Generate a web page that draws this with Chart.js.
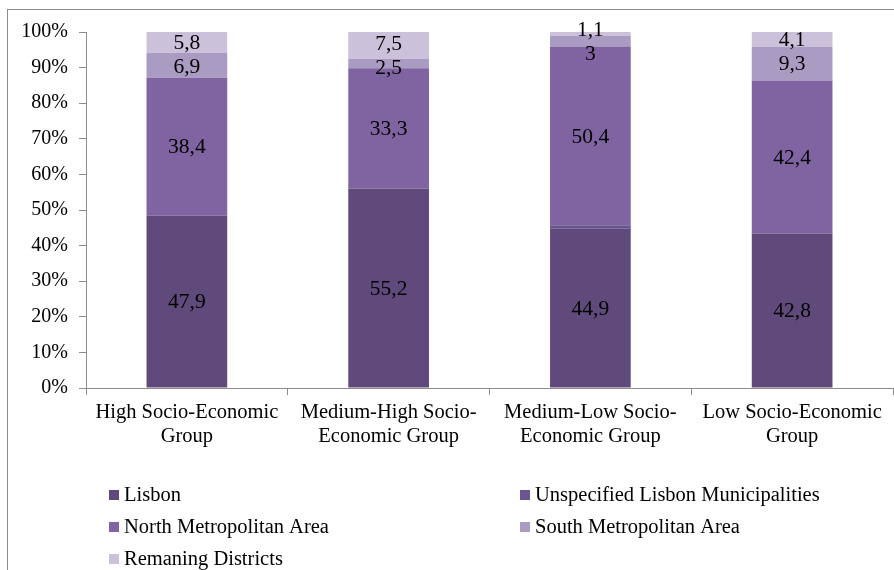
<!DOCTYPE html>
<html>
<head>
<meta charset="utf-8">
<script src="https://cdn.jsdelivr.net/npm/chart.js@4.4.1/dist/chart.umd.min.js"></script>
<style>
  html, body { margin: 0; padding: 0; background: #fff; overflow: hidden; }
  #wrap { position: relative; width: 894px; height: 570px; overflow: hidden; }
  #frame { position: absolute; left: 7px; top: 9px; width: 887px; height: 600px; border: 1px solid #8c8c8c; border-right: none; box-sizing: border-box; pointer-events: none; }
  canvas { position: absolute; left: 0; top: 0; }
</style>
</head>
<body>
<div id="wrap">
  <canvas id="chart" width="894" height="570"></canvas>
  <div id="frame"></div>
</div>
<script>
// Datos (porcentaje por grupo socioeconomico)
var categories = [
  ['High Socio-Economic', 'Group'],
  ['Medium-High Socio-', 'Economic Group'],
  ['Medium-Low Socio-', 'Economic Group'],
  ['Low Socio-Economic', 'Group']
];
var seriesNames = ['Lisbon', 'Unspecified Lisbon Municipalities', 'North Metropolitan Area', 'South Metropolitan Area', 'Remaning Districts'];
var lisbon = [47.9, 55.2, 44.9, 42.8];
var unspecified = [0, 0, 1.0, 0];
var north = [38.4, 33.3, 50.4, 42.4];
var south = [6.9, 2.5, 3, 9.3];
var remaining = [5.8, 7.5, 1.1, 4.1];
var yTicks = [0, 10, 20, 30, 40, 50, 60, 70, 80, 90, 100];

var colors = ['#604a7b', '#6a5590', '#8064a2', '#a99bc2', '#ccc1da'];
var showLabel = [true, false, true, true, true];
var raw = [lisbon, unspecified, north, south, remaining];

// apilado al 100%: cada barra se normaliza a su total
var totals = categories.map(function (c, i) {
  return raw.reduce(function (s, arr) { return s + arr[i]; }, 0);
});

var datasets = raw.map(function (arr, k) {
  return {
    label: seriesNames[k],
    data: arr.map(function (v, i) { return v / totals[i] * 100; }),
    rawValues: arr,
    showLabel: showLabel[k],
    backgroundColor: colors[k],
    borderWidth: 0,
    barPercentage: 0.4,
    categoryPercentage: 1
  };
});

var serif = 'Liberation Serif, Times New Roman, serif';

// etiquetas centradas en cada segmento, separando las que se pisan
var segmentLabels = {
  id: 'segmentLabels',
  afterDatasetsDraw: function (chart) {
    var ctx = chart.ctx;
    ctx.save();
    ctx.font = '21.5px ' + serif;
    ctx.fillStyle = '#000';
    ctx.textAlign = 'center';
    ctx.textBaseline = 'middle';
    var minGap = 24;
    chart.data.labels.forEach(function (c, i) {
      var items = [];
      chart.data.datasets.forEach(function (ds, k) {
        if (!ds.showLabel || !ds.rawValues[i]) return;
        var bar = chart.getDatasetMeta(k).data[i];
        items.push({ x: bar.x, y: (bar.y + bar.base) / 2, text: String(ds.rawValues[i]).replace('.', ',') });
      });
      items.sort(function (a, b) { return a.y - b.y; });
      for (var n = 1; n < items.length; n++) {
        var gap = items[n].y - items[n - 1].y;
        if (gap < minGap) {
          var d = (minGap - gap) / 2;
          items[n - 1].y -= d * 0.6;
          items[n].y += d * 1.4;
        }
      }
      items.forEach(function (it) { ctx.fillText(it.text, it.x, it.y + 1); });
    });
    ctx.restore();
  }
};

// leyenda en dos columnas bajo el eje
var twoColLegend = {
  id: 'twoColLegend',
  afterDraw: function (chart) {
    var ctx = chart.ctx;
    var colX = [109, 520];
    var rowY = [495, 527, 559];
    ctx.save();
    ctx.font = '20.5px ' + serif;
    ctx.textBaseline = 'middle';
    ctx.textAlign = 'left';
    chart.data.datasets.forEach(function (ds, k) {
      var x = colX[k % 2];
      var y = rowY[Math.floor(k / 2)];
      ctx.fillStyle = ds.backgroundColor;
      ctx.fillRect(x, y - 5, 10, 10);
      ctx.fillStyle = '#000';
      ctx.fillText(ds.label, x + 15, y + 1);
    });
    ctx.restore();
  }
};

var ctx = document.getElementById('chart').getContext('2d');
var chart = new Chart(ctx, {
  type: 'bar',
  data: { labels: categories, datasets: datasets },
  plugins: [segmentLabels, twoColLegend],
  options: {
    responsive: false,
    animation: false,
    layout: { padding: { top: 32, right: 1, left: 0, bottom: 0 } },
    plugins: {
      legend: { display: false },
      tooltip: { enabled: false }
    },
    scales: {
      x: {
        stacked: true,
        grid: { display: true, drawOnChartArea: false, offset: true, tickLength: 7, color: '#8c8c8c' },
        border: { color: '#8c8c8c' },
        ticks: { color: '#000', font: { family: serif, size: 20.5, lineHeight: 1.17 }, padding: 6, maxRotation: 0, autoSkip: false },
        afterFit: function (scale) { scale.height = 182; }
      },
      y: {
        stacked: true,
        min: 0,
        max: 100,
        afterBuildTicks: function (scale) {
          scale.ticks = yTicks.map(function (v) { return { value: v }; });
        },
        grid: { display: true, drawOnChartArea: false, tickLength: 7, color: '#8c8c8c' },
        border: { color: '#8c8c8c' },
        ticks: {
          color: '#000',
          font: { family: serif, size: 20 },
          padding: 11,
          callback: function (v) { return v + '%'; }
        },
        afterFit: function (scale) { scale.width = 86; }
      }
    }
  }
});
</script>
</body>
</html>
